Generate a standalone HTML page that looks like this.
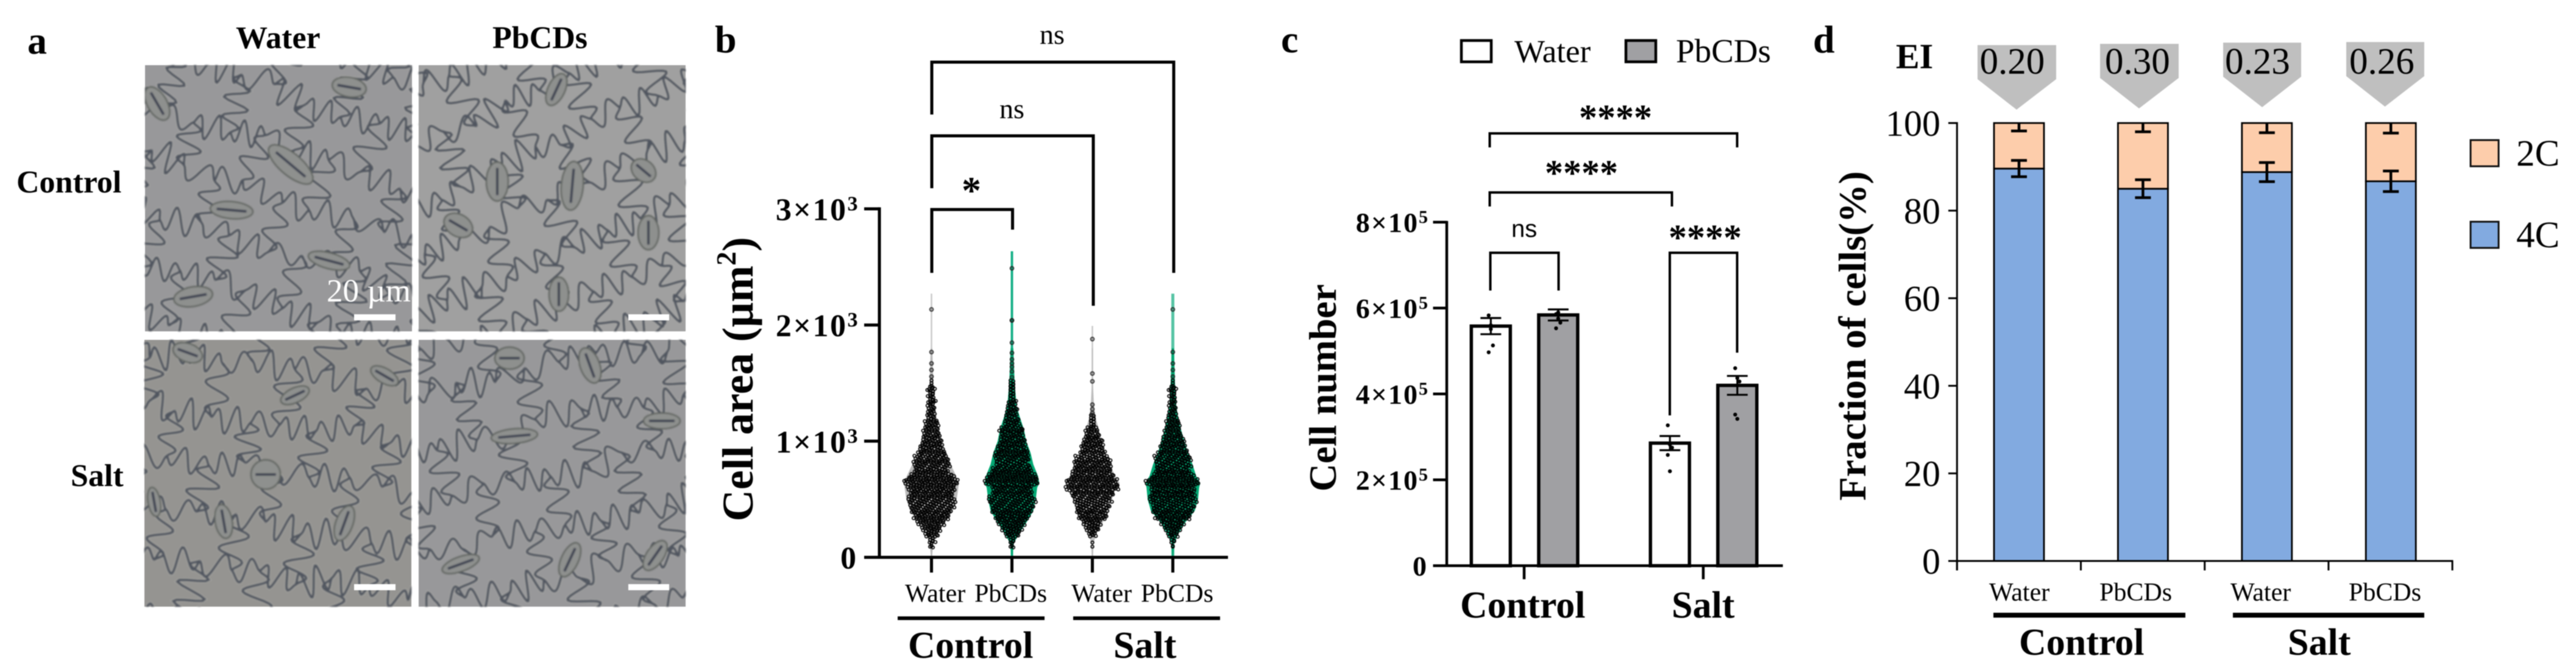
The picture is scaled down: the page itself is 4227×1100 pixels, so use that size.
<!DOCTYPE html>
<html lang="en"><head><meta charset="utf-8"><title>Panels a-d</title>
<style>
html,body{margin:0;padding:0;background:#fff;width:4227px;height:1100px;overflow:hidden}
svg{display:block;filter:blur(.7px)}
text{font-family:"Liberation Serif",serif;fill:#000}
.b{font-weight:bold}
.pl{font-weight:bold;font-size:64px}
.hd{font-weight:bold;font-size:52px}
.xs{font-size:42px}
.grp{font-weight:bold;font-size:62px}
.br{fill:none;stroke:#000;stroke-linejoin:miter}
</style></head><body>
<svg id="fig" xmlns="http://www.w3.org/2000/svg" width="4227" height="1100" viewBox="0 0 4227 1100">
<defs>
<filter id="soft"><feGaussianBlur stdDeviation="1.2"/></filter>
<clipPath id="c0"><rect x="238" y="107" width="438" height="437"/></clipPath>
<clipPath id="c1"><rect x="687" y="107" width="438" height="437"/></clipPath>
<clipPath id="c2"><rect x="237" y="558" width="438" height="438"/></clipPath>
<clipPath id="c3"><rect x="687" y="558" width="438" height="438"/></clipPath>
</defs>
<rect width="4227" height="1100" fill="#fff"/>

<!-- PANEL A -->
<g>
<text class="pl" x="45" y="88">a</text>
<text class="hd" x="387" y="79">Water</text>
<text class="hd" x="808" y="79">PbCDs</text>
<text class="hd" x="27" y="316">Control</text>
<text class="hd" x="116" y="798">Salt</text>
<rect x="238" y="107" width="438" height="437" fill="#98989a"/>
<rect x="687" y="107" width="438" height="437" fill="#a0a0a0"/>
<rect x="237" y="558" width="438" height="438" fill="#959491"/>
<rect x="687" y="558" width="438" height="438" fill="#98989a"/>
<g id="cells" filter="url(#soft)"></g>
<text x="536" y="495" font-size="53" style="fill:#fff">20 µm</text>
<rect x="581" y="516" width="68" height="10" fill="#fff"/>
<rect x="1031" y="516" width="67" height="10" fill="#fff"/>
<rect x="581" y="959" width="68" height="10" fill="#fff"/>
<rect x="1031" y="959" width="67" height="10" fill="#fff"/>
</g>

<!-- PANEL B -->
<g id="panelB">
<text class="pl" x="1173" y="86">b</text>
<text class="b" font-size="72" transform="translate(1235,856) rotate(-90)">Cell area (µm<tspan font-size="46" dy="-28">2</tspan><tspan dy="28">)</tspan></text>
<path class="br" stroke-width="5" d="M1529 188V102H1926V448"/>
<path class="br" stroke-width="5" d="M1529 309V223H1794V502"/>
<path class="br" stroke-width="5" d="M1529 448V344H1661.500V377"/>
<text x="1706" y="72" font-size="46">ns</text>
<text x="1640" y="194" font-size="46">ns</text>
<text class="b" x="1578" y="334" font-size="64">*</text>
<text class="xs" x="1485" y="988">Water</text>
<text class="xs" x="1599" y="988">PbCDs</text>
<text class="xs" x="1758" y="988">Water</text>
<text class="xs" x="1872" y="988">PbCDs</text>
<rect x="1473" y="1012" width="241" height="6"/>
<rect x="1761" y="1012" width="241" height="6"/>
<text class="grp" x="1490" y="1080">Control</text>
<text class="grp" x="1827" y="1080">Salt</text>
</g>

<!-- PANEL C -->
<g id="panelC">
<text class="pl" x="2102" y="86">c</text>
<rect x="2398" y="66.500" width="49" height="35" fill="#fff" stroke="#000" stroke-width="4.500"/>
<text x="2485" y="102" font-size="53">Water</text>
<rect x="2668" y="66.500" width="49" height="35" fill="#a0a0a3" stroke="#000" stroke-width="4.500"/>
<text x="2750" y="102" font-size="55">PbCDs</text>
<text class="b" font-size="63.500" transform="translate(2192,807) rotate(-90)">Cell number</text>
<path class="br" stroke-width="4" d="M2444.500 242V219H2850.500V242"/>
<path class="br" stroke-width="4" d="M2444.500 339V316H2743.500V339"/>
<path class="br" stroke-width="4" d="M2445.500 477V415H2557.500V477"/>
<path class="br" stroke-width="4" d="M2740 682V415H2850.500V579"/>
<text class="b" x="2591" y="213" font-size="60">****</text>
<text class="b" x="2535" y="304" font-size="60">****</text>
<text class="b" x="2738" y="410" font-size="60">****</text>
<text x="2480" y="389" font-size="40" style="font-family:'Liberation Sans',sans-serif">ns</text>
<text class="grp" x="2396" y="1014">Control</text>
<text class="grp" x="2743" y="1014">Salt</text>
</g>

<!-- PANEL D -->
<g id="panelD">
<text class="pl" x="2975" y="86">d</text>
<text class="b" x="3111" y="112" font-size="58">EI</text>
<polygon points="3245,74 3374,74 3374,130 3309,180 3245,130" fill="#bfbfbf"/>
<polygon points="3446,72 3575,72 3575,128 3510,178 3446,128" fill="#bfbfbf"/>
<polygon points="3648,70 3776,70 3776,126 3712,176 3648,126" fill="#bfbfbf"/>
<polygon points="3850,69 3978,69 3978,125 3913.500,175 3850,125" fill="#bfbfbf"/>
<text x="3248.500" y="121" font-size="61">0.20</text>
<text x="3454" y="121" font-size="61">0.30</text>
<text x="3651" y="121" font-size="61">0.23</text>
<text x="3855" y="121" font-size="61">0.26</text>
<text class="b" font-size="63.500" textLength="541" lengthAdjust="spacingAndGlyphs" transform="translate(3061,822) rotate(-90)">Fraction of cells(%)</text>
<text class="xs" x="3264" y="986">Water</text>
<text class="xs" x="3445" y="986">PbCDs</text>
<text class="xs" x="3660" y="986">Water</text>
<text class="xs" x="3854" y="986">PbCDs</text>
<rect x="3271" y="1006" width="315" height="8"/>
<rect x="3664" y="1006" width="314" height="8"/>
<text class="grp" x="3313" y="1075">Control</text>
<text class="grp" x="3754" y="1075">Salt</text>
<rect x="4054" y="230" width="46" height="43" fill="#fdcdab" stroke="#111" stroke-width="3"/>
<text x="4129" y="272" font-size="61">2C</text>
<rect x="4054" y="364" width="46" height="43" fill="#82aae0" stroke="#111" stroke-width="3"/>
<text x="4129" y="406" font-size="61">4C</text>
</g>
</svg>
<script>
/* Panel b data: cell area (um^2). Counts are cells per 50-wide area bin. */
const areaBins = [100,150,200,250,300,350,400,450,500,550,600,650,700,750,800,850,900,950,1000,1050,1100,1150,1200,1250,1300,1350,1400,1450,1500];
const countsControlWater = [4,7,14,20,29,37,42,47,50,45,50,57,47,35,39,36,29,25,21,18,16,15,10,8,8,8,7,8,3];
const countsControlPbcds = [4,6,15,22,30,35,42,45,50,42,42,56,52,42,35,36,35,31,27,24,25,17,14,12,10,8,6,6,6];
const countsSaltWater = [1,1,8,14,19,30,33,35,40,44,56,54,45,40,39,37,27,24,21,15,13,6,6,0,0,0,0,0,0];
const countsSaltPbcds = [2,5,11,18,25,37,42,44,50,46,46,56,44,35,37,39,32,27,24,19,16,15,11,8,8,7,7,8,3];
const outliersControlWater = [1556,1613,1669,1767,2134];
const outliersControlPbcds = [1550,1600,1640,1669,1704,1760,1848,2040,2040,2488];
const outliersSaltWater = [1223,1241,1276,1314,1515,1582,1879];
const outliersSaltPbcds = [1556,1613,1669,1767,2134];
const violinValues = [0,120,200,300,400,500,600,640,700,800,900,1000,1100,1200,1300,1500,1800];
const densityControlWater = [.02,.06,.22,.5,.78,.92,.98,1,.9,.7,.5,.38,.28,.18,.12,.07,.03];
const densityControlPbcds = [.02,.07,.25,.53,.78,.87,.92,1,.95,.78,.68,.52,.44,.3,.17,.1,.05];
const densitySaltWater = [.02,.04,.14,.38,.6,.72,.85,1,.82,.66,.45,.34,.24,.12,.06,.02,.02];
const densitySaltPbcds = [.02,.05,.2,.45,.8,.92,.96,1,.85,.72,.55,.42,.3,.2,.13,.08,.04];
const violinMax = [2270,2635,1992,2270];
const yTicksB = [0,1000,2000,3000];

/* Panel c data: cell number */
const cGroups = ['Control','Salt'];
const cWaterMean = [558000,285500];
const cPbcdsMean = [584000,420000];
const cWaterSem = [18800,16500];
const cPbcdsSem = [12900,22000];
const cWaterPoints = [[583000,551000,513000,497000,560000],[327000,282000,275000,258000,220000]];
const cPbcdsPoints = [[586000,576000,566000,553000,590000],[460000,437000,429000,352000,342000]];
const yTicksC = [0,200000,400000,600000,800000];

/* Panel d data: fraction of cells (%) */
const dCategories = ['Control Water','Control PbCDs','Salt Water','Salt PbCDs'];
const d4C = [89.6,85,88.8,86.7];
const d2C = [10.4,15,11.2,13.3];
const d4CErr = [1.86,2.04,2.18,2.34];
const d2CErr = [1.8,2.0,2.2,2.3];
const yTicksD = [0,20,40,60,80,100];

const NS='http://www.w3.org/2000/svg';
function mk(parent,tag,attrs,txt){
  const e=document.createElementNS(NS,tag);
  for(const k in attrs)e.setAttribute(k,attrs[k]);
  if(txt!==undefined)e.textContent=txt;
  parent.appendChild(e);
  return e;
}
function label(e,name){
  
  
  return e;
}

/* --- photo texture (decorative micrograph stand-in, not data) --- */
(function(){
  const host=document.getElementById('cells');
  const panels=[
   {c:'c0',x:238,y:107,cx:457,cy:325,rot:18,seed:3,
    st:[[258,170,30,16,60],[573,143,28,16,10],[477,270,45,18,40],[380,345,35,14,5],[540,428,35,13,15],[317,487,32,16,-10]]},
   {c:'c1',x:687,y:107,cx:906,cy:325,rot:-25,seed:11,
    st:[[913,147,28,14,-65],[816,298,32,18,90],[939,305,40,18,-85],[1056,280,22,17,40],[1064,382,28,17,90],[752,370,25,18,30],[917,483,28,16,90]]},
   {c:'c2',x:237,y:558,cx:456,cy:777,rot:8,seed:23,
    st:[[484,649,25,12,-25],[631,617,25,12,30],[436,779,24,24,0],[367,856,28,14,80],[565,859,30,14,-70],[308,579,25,15,20],[253,824,24,10,80]]},
   {c:'c3',x:687,y:558,cx:906,cy:777,rot:-12,seed:37,
    st:[[836,588,24,18,0],[968,600,30,16,70],[844,716,38,12,-5],[1086,691,30,13,0],[756,926,32,12,-20],[935,919,30,14,-65],[1075,912,28,14,-55]]}
  ];
  panels.forEach(function(p){
    let s=p.seed;
    const rnd=function(){s=(s*16807+11)%2147483647;return (s%10000)/10000;};
    const W=58,H=84,nx=7,ny=5,J=11;
    const ca=Math.cos(p.rot*Math.PI/180),sa=Math.sin(p.rot*Math.PI/180);
    const P={};
    for(let i=-nx;i<=nx;i++)for(let j=-ny;j<=ny;j++){
      const a=i*W+(rnd()-.5)*J*2,b=j*H+(rnd()-.5)*J*2;
      P[i+','+j]=[p.cx+a*ca-b*sa,p.cy+a*sa+b*ca];
    }
    const edge=function(a,b){
      const mx=(a[0]+b[0])/2,my=(a[1]+b[1])/2;
      if(mx<p.x-50||mx>p.x+488||my<p.y-50||my>p.y+488)return '';
      if(a[1]>1060||b[1]>1060)return '';
      const dx=b[0]-a[0],dy=b[1]-a[1],L=Math.hypot(dx,dy)||1;
      const nxx=-dy/L,nyy=dx/L,cyc=Math.max(1,Math.round(L/38)),amp=(rnd()<.5?-1:1)*(19+rnd()*8);
      let d='M'+a[0].toFixed(1)+' '+a[1].toFixed(1);
      for(let t=1;t<=28;t++){
        const u=t/28,o=amp*Math.sin(u*Math.PI*cyc*2)*Math.pow(Math.sin(u*Math.PI),.5);
        d+='L'+(a[0]+dx*u+nxx*o).toFixed(1)+' '+(a[1]+dy*u+nyy*o).toFixed(1);
      }
      return d;
    };
    let d='';
    for(let i=-nx;i<nx;i++)for(let j=-ny;j<=ny;j++){d+=edge(P[i+','+j],P[(i+1)+','+j]);}
    for(let i=-nx;i<=nx;i++)for(let j=-ny;j<ny;j++){if(((i+j)%2+2)%2===0)d+=edge(P[i+','+j],P[i+','+(j+1)]);}
    const g=mk(host,'g',{'clip-path':'url(#'+p.c+')'});
    mk(g,'path',{d:d,fill:'none',stroke:'#c4c4bc','stroke-width':7,opacity:.35});
    mk(g,'path',{d:d,fill:'none',stroke:'#50555e','stroke-width':4});
    p.st.forEach(function(e){
      const c=Math.cos(e[4]*Math.PI/180),n=Math.sin(e[4]*Math.PI/180);
      mk(g,'ellipse',{cx:e[0],cy:e[1],rx:e[2],ry:e[3],transform:'rotate('+e[4]+' '+e[0]+' '+e[1]+')',fill:'#8e908e',stroke:'#5f635e','stroke-width':2.4});
      mk(g,'line',{x1:e[0]-e[2]*.7*c,y1:e[1]-e[2]*.7*n,x2:e[0]+e[2]*.7*c,y2:e[1]+e[2]*.7*n,stroke:'#3a4050','stroke-width':4});
    });
  });
})();

/* --- panel B --- */
(function(){
  const root=document.getElementById('panelB');
  const yB=function(v){return 915-v*0.1907;};
  const xB=function(i){return 1528.5+i*132;};
  const wB=function(d){return d*45;};
  const countSets=[countsControlWater,countsControlPbcds,countsSaltWater,countsSaltPbcds];
  const outSets=[outliersControlWater,outliersControlPbcds,outliersSaltWater,outliersSaltPbcds];
  const denSets=[densityControlWater,densityControlPbcds,densitySaltWater,densitySaltPbcds];
  const fills=['#b9b9b9','#03a873','#bdbdbd','#03a873'];
  const lines=['#c9c9c9','#18b088','#c9c9c9','#57c4a4'];
  const lineW=[2.5,4,2.5,5];
  const names=['control-water','control-pbcds','salt-water','salt-pbcds'];
  countSets.forEach(function(counts,g){
    const cx=xB(g);
    const group=mk(root,'g',{});
    label(group,'violin-'+names[g]);
    const stem=mk(group,'line',{x1:cx,x2:cx,y1:yB(0),y2:yB(violinMax[g]),stroke:lines[g],'stroke-width':lineW[g]});
    
    
    let pts='';
    violinValues.forEach(function(v,i){pts+=(cx+wB(denSets[g][i])).toFixed(1)+','+yB(v).toFixed(1)+' ';});
    for(let i=violinValues.length-1;i>=0;i--){pts+=(cx-wB(denSets[g][i])).toFixed(1)+','+yB(violinValues[i]).toFixed(1)+' ';}
    const body=mk(group,'polygon',{points:pts,fill:fills[g]});
    
    
    const step=4.7;
    areaBins.forEach(function(v,b){
      const c=counts[b];
      const base=Math.floor(c/3),rem=c%3;
      for(let r=0;r<3;r++){
        const n=base+(r<rem?1:0);
        const val=v+(r-1)*16.7;
        const phase=((b*3+r)*0.618)%1;
        for(let k=0;k<n;k++){
          const jog=n>2?(phase-.5)*step:0;
          const wob=((k*0.382+phase)%1-.5)*3.2;
          const dot=mk(group,'circle',{cx:(cx+(k-(n-1)/2)*step+jog).toFixed(1),cy:(yB(val)+wob).toFixed(1),r:2.4,fill:'none',stroke:'#000','stroke-width':1.8,'stroke-opacity':.92});
          
          
        }
      }
    });
    outSets[g].forEach(function(v){
      const dot=mk(group,'circle',{cx:cx,cy:yB(v).toFixed(1),r:3,fill:'rgba(0,0,0,.25)',stroke:'#222','stroke-width':1.8,'stroke-opacity':.8});
      
      
    });
    const tick=mk(root,'line',{x1:cx,x2:cx,y1:915,y2:940,stroke:'#000','stroke-width':5});
    
    
  });
  const ya=mk(root,'line',{x1:1443,x2:1443,y1:yB(3000)-2.5,y2:917.5,stroke:'#000','stroke-width':5});
  
  
  const xa=mk(root,'line',{x1:1418,x2:2015,y1:915,y2:915,stroke:'#000','stroke-width':5});
  
  
  yTicksB.forEach(function(v){
    const t=mk(root,'line',{x1:1418,x2:1443,y1:yB(v),y2:yB(v),stroke:'#000','stroke-width':5});
    
    
    const lab=mk(root,'text',{x:v?1410:1405,y:yB(v)+18.5,'text-anchor':'end','font-size':52,'font-weight':'bold','letter-spacing':v?2.5:0});
    
    
    if(v){
      mk(lab,'tspan',{},(v/1000)+'×10');
      mk(lab,'tspan',{'font-size':34,dy:-16},'3');
    }else{lab.textContent='0';}
  });
})();

/* --- panel C --- */
(function(){
  const root=document.getElementById('panelC');
  const yC=function(v){return 928.8-v/200000*141;};
  const xC=function(g){return 2501.6+g*293.9;};
  const off=55.3,bw=64;
  const drawSeries=function(means,sems,points,sign,fill,nm){
    means.forEach(function(m,g){
      const cx=xC(g)+sign*off;
      const bar=mk(root,'rect',{x:cx-bw/2,y:yC(m),width:bw,height:928.8-yC(m),fill:fill,stroke:'#000','stroke-width':5.5});
      
      
      const hi=yC(m+sems[g]),lo=yC(m-sems[g]);
      const eb=mk(root,'path',{d:'M'+(cx-17)+' '+hi+'H'+(cx+17)+'M'+cx+' '+hi+'V'+lo+'M'+(cx-17)+' '+lo+'H'+(cx+17),fill:'none',stroke:'#000','stroke-width':3.2});
      
      
      points[g].forEach(function(p,i){
        const dot=mk(root,'circle',{cx:cx+((i%3)-1)*3.5,cy:yC(p),r:3.2,fill:'#000'});
        
        
      });
    });
  };
  drawSeries(cWaterMean,cWaterSem,cWaterPoints,-1,'#fff','water');
  drawSeries(cPbcdsMean,cPbcdsSem,cPbcdsPoints,1,'#a0a0a3','pbcds');
  const ya=mk(root,'line',{x1:2374,x2:2374,y1:yC(800000)-2,y2:931,stroke:'#000','stroke-width':4.5});
  
  
  const xa=mk(root,'line',{x1:2351.5,x2:2925.5,y1:928.8,y2:928.8,stroke:'#000','stroke-width':4.5});
  
  
  cGroups.forEach(function(n,g){
    const t=mk(root,'line',{x1:xC(g)-.6,x2:xC(g)-.6,y1:928.8,y2:951,stroke:'#000','stroke-width':4.5});
    
    
  });
  yTicksC.forEach(function(v){
    const t=mk(root,'line',{x1:2351.5,x2:2374,y1:yC(v),y2:yC(v),stroke:'#000','stroke-width':4.5});
    
    
    const lab=mk(root,'text',{x:v?2345:2341,y:yC(v)+16,'text-anchor':'end','font-size':46,'font-weight':'bold','letter-spacing':v?2:0});
    
    
    if(v){
      mk(lab,'tspan',{},(v/100000)+'×10');
      mk(lab,'tspan',{'font-size':30,dy:-15},'5');
    }else{lab.textContent='0';}
  });
})();

/* --- panel D --- */
(function(){
  const root=document.getElementById('panelD');
  const yD=function(v){return 921-v*7.19;};
  const xD=function(i){return 3313+i*203.4;};
  const bw=82;
  dCategories.forEach(function(c,i){
    const cx=xD(i);
    const b4=mk(root,'rect',{x:cx-bw/2,y:yD(d4C[i]),width:bw,height:yD(0)-yD(d4C[i]),fill:'#82aae0',stroke:'#000','stroke-width':2.8});
    
    
    const b2=mk(root,'rect',{x:cx-bw/2,y:yD(d4C[i]+d2C[i]),width:bw,height:yD(d4C[i])-yD(d4C[i]+d2C[i]),fill:'#fdcdab',stroke:'#000','stroke-width':2.8});
    
    
    const hi=yD(d4C[i]+d4CErr[i]),lo=yD(d4C[i]-d4CErr[i]);
    const e4=mk(root,'path',{d:'M'+(cx-13)+' '+hi+'H'+(cx+13)+'M'+cx+' '+hi+'V'+lo+'M'+(cx-13)+' '+lo+'H'+(cx+13),fill:'none',stroke:'#000','stroke-width':4.5});
    
    
    const top=d4C[i]+d2C[i];
    const l2=yD(top-d2CErr[i]);
    const e2=mk(root,'path',{d:'M'+cx+' '+yD(top)+'V'+l2+'M'+(cx-13)+' '+l2+'H'+(cx+13),fill:'none',stroke:'#000','stroke-width':4.5});
    
    
  });
  const ya=mk(root,'line',{x1:3211.3,x2:3211.3,y1:yD(100)-1.5,y2:936.5,stroke:'#000','stroke-width':3});
  
  
  const xa=mk(root,'line',{x1:3197,x2:4025.5,y1:yD(0),y2:yD(0),stroke:'#000','stroke-width':3});
  
  
  dCategories.concat(['end']).forEach(function(c,i){
    const xx=3211.3+i*203.2;
    const t=mk(root,'line',{x1:xx,x2:xx,y1:921,y2:936.5,stroke:'#000','stroke-width':3});
    
    
  });
  yTicksD.forEach(function(v){
    const t=mk(root,'line',{x1:3197,x2:3211.3,y1:yD(v),y2:yD(v),stroke:'#000','stroke-width':3});
    
    
    const lab=mk(root,'text',{x:3184,y:yD(v)+21,'text-anchor':'end','font-size':60},String(v));
    
    
  });
})();
</script>
</body></html>
